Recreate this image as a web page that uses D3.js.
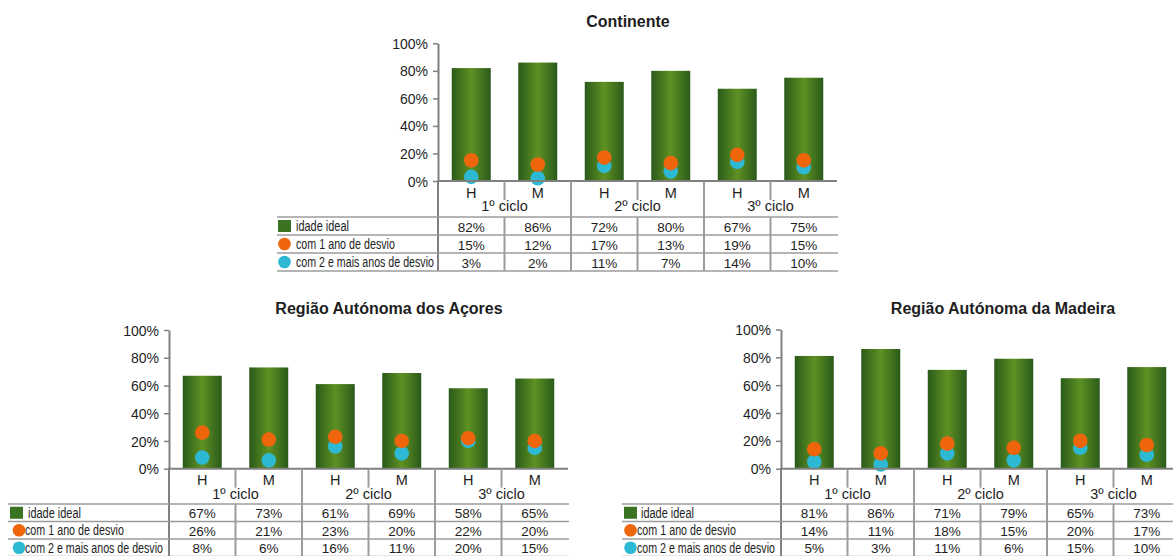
<!DOCTYPE html>
<html><head><meta charset="utf-8">
<script src="https://cdn.jsdelivr.net/npm/d3@7"></script>
<style>
body{margin:0;background:#fff}
svg{display:block}
text{font-family:"Liberation Sans",Arial,sans-serif;fill:#1e1e1e}
</style>
</head><body>
<svg id="chart" width="1173" height="556"></svg>
<script>
// ---------- data ----------
const categories = ["H","M","H","M","H","M"];
const groups = ["1º ciclo","2º ciclo","3º ciclo"];
const seriesNames = ["idade ideal","com 1 ano de desvio","com 2 e mais anos de desvio"];
const yTicks = [0,20,40,60,80,100];

const continenteIdeal  = [82,86,72,80,67,75];
const continente1Ano   = [15,12,17,13,19,15];
const continente2Anos  = [3,2,11,7,14,10];

const acoresIdeal  = [67,73,61,69,58,65];
const acores1Ano   = [26,21,23,20,22,20];
const acores2Anos  = [8,6,16,11,20,15];

const madeiraIdeal  = [81,86,71,79,65,73];
const madeira1Ano   = [14,11,18,15,20,17];
const madeira2Anos  = [5,3,11,6,15,10];

// ---------- layout ----------
const COLORS = {bar:"#3a7423", orange:"#ee650c", cyan:"#2db9d3", axis:"#808080", grid:"#9c9c9c"};
const charts = [
  {title:"Continente", ideal:continenteIdeal, um:continente1Ano, dois:continente2Anos,
   axisX:438, y0:181, y100:43.3, tableLeft:277, row1:217, rowH:18, titleX:628, titleY:26.5,
   sqX:1, cX:7.5, txtSq:19, txtC:19},
  {title:"Região Autónoma dos Açores", ideal:acoresIdeal, um:acores1Ano, dois:acores2Anos,
   axisX:169, y0:468.7, y100:330, tableLeft:8, row1:504, rowH:17.5, titleX:389, titleY:314,
   sqX:2, cX:11, txtSq:20, txtC:17},
  {title:"Região Autónoma da Madeira", ideal:madeiraIdeal, um:madeira1Ano, dois:madeira2Anos,
   axisX:781, y0:468.7, y100:329.5, tableLeft:622, row1:504, rowH:17.5, titleX:1003, titleY:314,
   sqX:2, cX:8.5, txtSq:19, txtC:15}
];
const bandW = 66.5;

const svg = d3.select("#chart");
const defs = svg.append("defs");
const grad = defs.append("linearGradient").attr("id","barGrad").attr("x1","0").attr("x2","1").attr("y1","0").attr("y2","0");
grad.append("stop").attr("offset","0").attr("stop-color","#2a5a1a");
grad.append("stop").attr("offset","0.5").attr("stop-color","#5e9123");
grad.append("stop").attr("offset","1").attr("stop-color","#2a5a1a");

charts.forEach(c => {
  const g = svg.append("g");
  const idx = d3.range(categories.length);
  const xEnd = c.axisX + bandW*categories.length;
  const p = 1 - 39/bandW;
  const x = d3.scaleBand().domain(idx).range([c.axisX, xEnd]).paddingInner(p).paddingOuter(p/2);
  const col = d3.scaleBand().domain(idx).range([c.axisX, xEnd]);
  const grp = d3.scaleBand().domain(d3.range(groups.length)).range([c.axisX, xEnd]);
  const y = d3.scaleLinear().domain([0,100]).range([c.y0, c.y100]);
  const tableBottom = c.row1 + 3*c.rowH;

  // title
  g.append("text").attr("x", c.titleX).attr("y", c.titleY).attr("text-anchor","middle")
    .style("font-weight","bold").style("font-size","16px").text(c.title);

  // bars
  g.selectAll(".bar").data(c.ideal).join("rect")
    .attr("x",(d,i)=>x(i)).attr("width",x.bandwidth())
    .attr("y",d=>y(d)).attr("height",d=>y(0)-y(d))
    .attr("fill","url(#barGrad)");

  // dots: cyan first, orange on top
  g.selectAll(".dc").data(c.dois).join("circle")
    .attr("cx",(d,i)=>x(i)+x.bandwidth()/2).attr("cy",d=>y(d)).attr("r",7.3).attr("fill",COLORS.cyan);
  g.selectAll(".do").data(c.um).join("circle")
    .attr("cx",(d,i)=>x(i)+x.bandwidth()/2).attr("cy",d=>y(d)).attr("r",7.3).attr("fill",COLORS.orange);

  // y axis
  const ax = g.append("g").attr("transform",`translate(${c.axisX},0)`)
    .call(d3.axisLeft(y).tickValues(yTicks).tickFormat(d=>d+"%").tickSize(5).tickSizeOuter(0).tickPadding(5));
  ax.select(".domain").attr("stroke",COLORS.axis).attr("stroke-width",2);
  ax.selectAll(".tick line").attr("stroke",COLORS.axis).attr("stroke-width",1.5);
  ax.selectAll(".tick text").style("font-size","14px").style("font-family","'Liberation Sans',Arial,sans-serif").attr("fill","#1e1e1e").attr("dy","0.36em");

  // category axis line
  g.append("line").attr("x1",c.axisX-1).attr("x2",xEnd).attr("y1",c.y0).attr("y2",c.y0)
    .attr("stroke",COLORS.axis).attr("stroke-width",2);
  // left vertical (axis continuation into table)
  g.append("line").attr("x1",c.axisX).attr("x2",c.axisX).attr("y1",c.y0).attr("y2",tableBottom)
    .attr("stroke",COLORS.axis).attr("stroke-width",2);
  // group separators
  d3.range(1,groups.length).forEach(k=>{
    g.append("line").attr("x1",grp(k)).attr("x2",grp(k)).attr("y1",c.y0).attr("y2",tableBottom)
      .attr("stroke",COLORS.grid).attr("stroke-width",2);
  });
  // H/M separators
  d3.range(groups.length).forEach(k=>{
    const xs = col(2*k+1);
    g.append("line").attr("x1",xs).attr("x2",xs).attr("y1",c.y0).attr("y2",c.y0+19)
      .attr("stroke",COLORS.grid).attr("stroke-width",2);
    g.append("line").attr("x1",xs).attr("x2",xs).attr("y1",c.row1).attr("y2",tableBottom)
      .attr("stroke",COLORS.grid).attr("stroke-width",2);
  });
  // table horizontal lines
  d3.range(4).forEach(r=>{
    const yy = c.row1 + r*c.rowH;
    g.append("line").attr("x1",c.tableLeft).attr("x2",xEnd+1).attr("y1",yy).attr("y2",yy)
      .attr("stroke",COLORS.grid).attr("stroke-width",1.6);
  });

  // category labels
  g.selectAll(".cat").data(categories).join("text")
    .attr("x",(d,i)=>col(i)+bandW/2).attr("y",c.y0+16.5).attr("text-anchor","middle")
    .style("font-size","14.5px").text(d=>d);
  g.selectAll(".grp").data(groups).join("text")
    .attr("x",(d,i)=>grp(i)+grp.bandwidth()/2).attr("y",c.y0+30).attr("text-anchor","middle")
    .style("font-size","14.5px").text(d=>d);

  // table values
  [c.ideal,c.um,c.dois].forEach((vals,r)=>{
    const base = c.row1 + r*c.rowH + c.rowH*0.82;
    g.selectAll(".v"+r).data(vals).join("text")
      .attr("x",(d,i)=>col(i)+bandW/2).attr("y",base).attr("text-anchor","middle")
      .style("font-size","13.5px").text(d=>d+"%");
  });

  // legend column
  const lg = g.append("g");
  seriesNames.forEach((name,r)=>{
    const top = c.row1 + r*c.rowH;
    const mid = top + c.rowH/2;
    let tx;
    if(r===0){
      lg.append("rect").attr("x",c.tableLeft+c.sqX).attr("y",mid-6).attr("width",13).attr("height",12).attr("fill",COLORS.bar);
      tx = c.tableLeft + c.txtSq;
    } else {
      lg.append("circle").attr("cx",c.tableLeft+c.cX).attr("cy",mid).attr("r",6.3)
        .attr("fill", r===1?COLORS.orange:COLORS.cyan);
      tx = c.tableLeft + c.txtC;
    }
    const t = lg.append("text").attr("y",top + c.rowH*0.8).style("font-size","14.5px").text(name);
    const w = t.node().getComputedTextLength();
    const target = {0:53, 1:99, 2:138}[r];
    t.attr("transform",`translate(${tx},0) scale(${target/w},1)`);
  });
});
</script>
</body></html>
